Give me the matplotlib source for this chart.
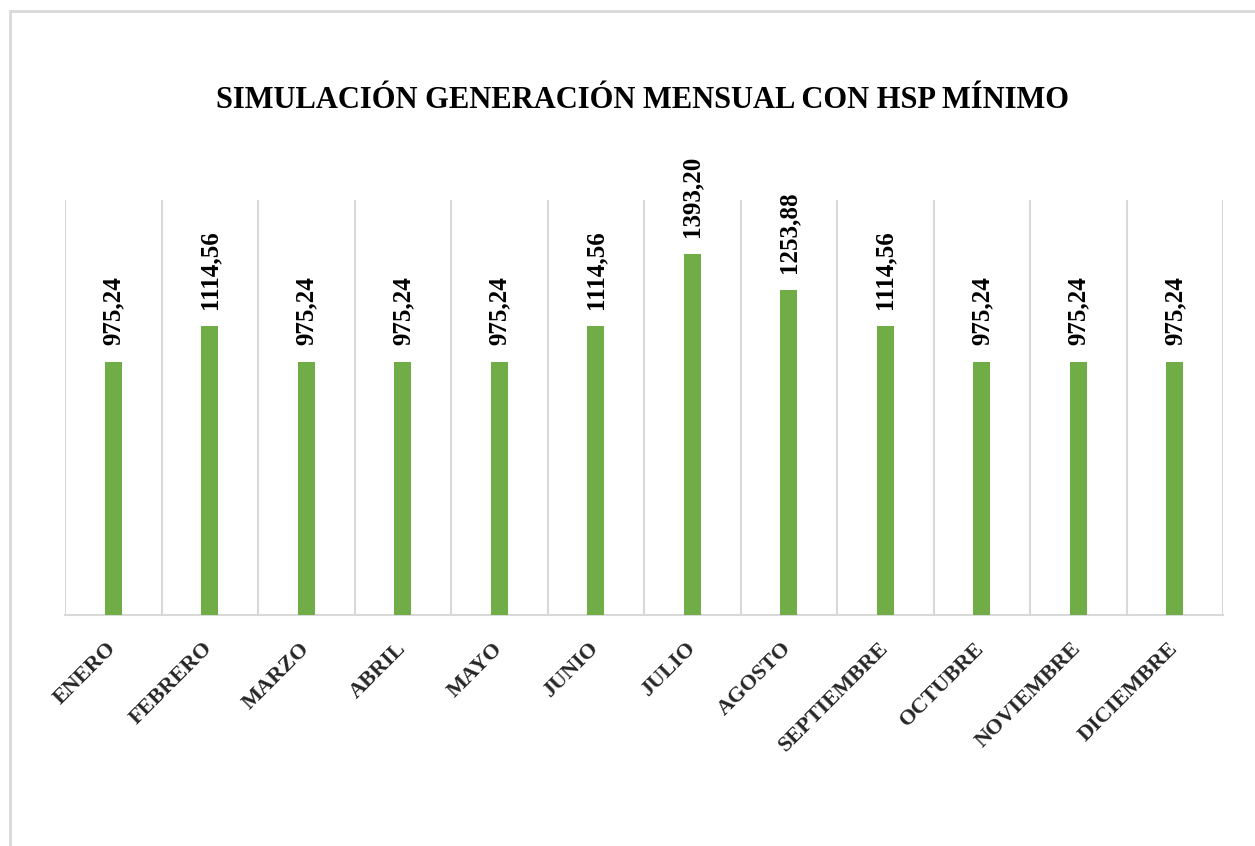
import matplotlib
matplotlib.use("Agg")
import matplotlib.pyplot as plt
from matplotlib.patches import Rectangle

# ---- data ----
MONTHS = ["ENERO", "FEBRERO", "MARZO", "ABRIL", "MAYO", "JUNIO", "JULIO",
          "AGOSTO", "SEPTIEMBRE", "OCTUBRE", "NOVIEMBRE", "DICIEMBRE"]
GENERATION = [975.24, 1114.56, 975.24, 975.24, 975.24, 1114.56, 1393.20,
              1253.88, 1114.56, 975.24, 975.24, 975.24]
TITLE = "SIMULACIÓN GENERACIÓN MENSUAL CON HSP MÍNIMO"

# ---- style ----
C_BAR = "#70AD47"
C_GRID = "#D9D9D9"
SERIF = ["Liberation Serif", "DejaVu Serif"]

fig = plt.figure(figsize=(12.55, 8.46), dpi=100)
ax = fig.add_axes([65 / 1255, 1 - 615 / 846, (1223 - 65) / 1255, (615 - 200) / 846])

x = list(range(len(MONTHS)))
ax.bar(x, GENERATION, width=0.18, color=C_BAR, zorder=3)

ax.set_xlim(-0.5, len(MONTHS) - 0.5)
ax.set_ylim(0, 1600)

# vertical gridlines on category boundaries
for b in range(len(MONTHS) + 1):
    ax.axvline(b - 0.5, color=C_GRID, lw=1.5, zorder=1)

for sp in ("top", "right", "left"):
    ax.spines[sp].set_visible(False)
ax.spines["bottom"].set_color(C_GRID)
ax.spines["bottom"].set_linewidth(1.5)
ax.set_yticks([])

ax.set_xticks(x)
ax.set_xticklabels(MONTHS, rotation=45, ha="right", va="center",
                   rotation_mode="anchor", family=SERIF, fontweight="bold",
                   fontsize=16, color="#262626")
ax.tick_params(axis="x", length=0, pad=22)

# data labels, rotated
for xi, v in zip(x, GENERATION):
    ax.annotate(f"{v:.2f}".replace(".", ","), (xi, v), xytext=(0, 12),
                textcoords="offset points", rotation=90, ha="center",
                va="bottom", family=SERIF, fontweight="bold", fontsize=18,
                color="black")

fig.text(0.5 * (185 + 1100) / 1255, 1 - 100 / 846, TITLE, ha="center",
         va="center", family=SERIF, fontweight="bold", fontsize=22,
         color="black")

# chart frame (partly cut off at right/bottom)
fig.patches.append(Rectangle((10 / 1255, -0.05), 1.2, 1 - 11 / 846 + 0.05,
                             transform=fig.transFigure, fill=False,
                             edgecolor=C_GRID, lw=2))

fig.savefig("out.png", dpi=100)
